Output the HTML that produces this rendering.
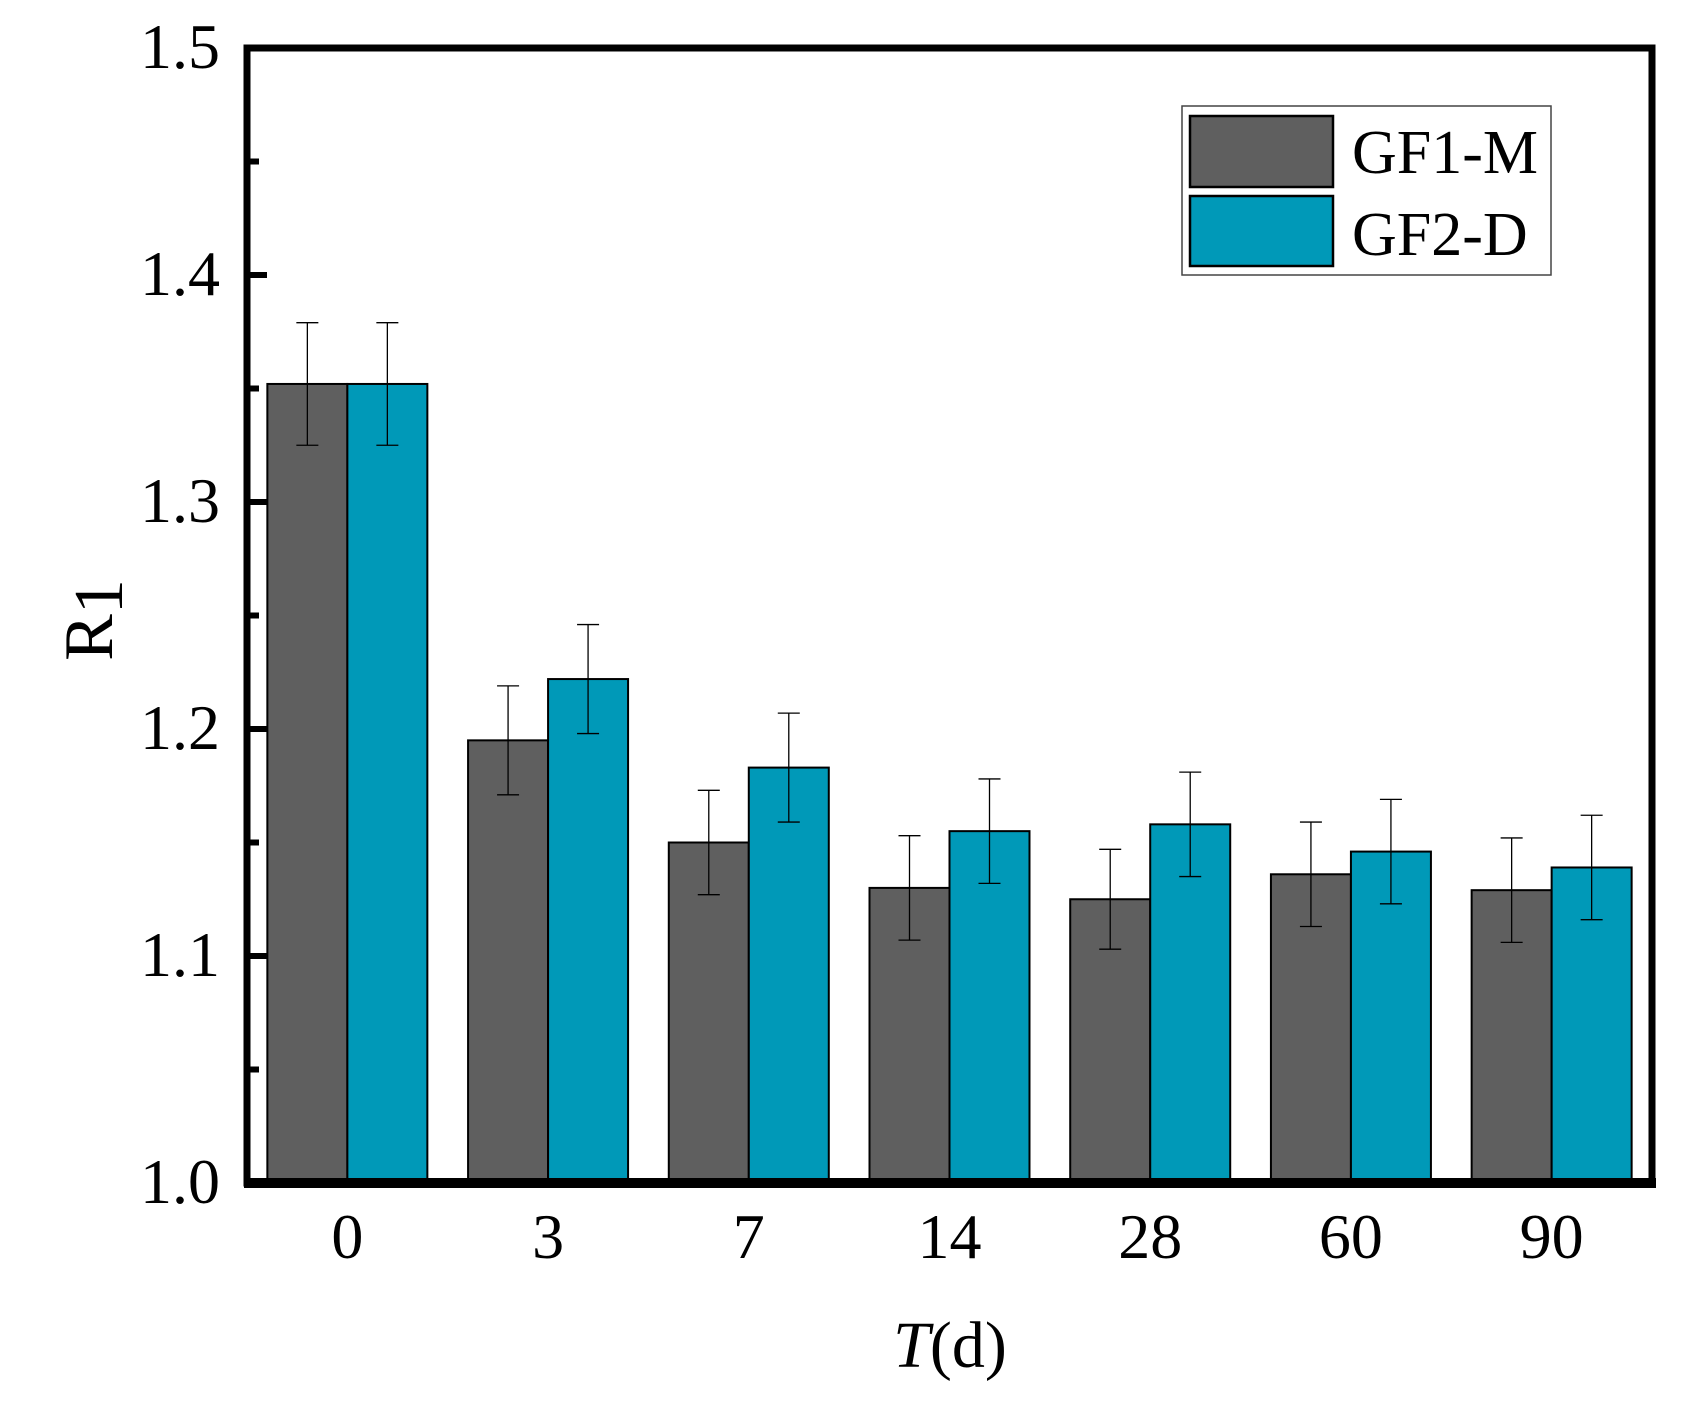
<!DOCTYPE html>
<html><head><meta charset="utf-8"><style>
html,body{margin:0;padding:0;background:#fff;}
svg text{font-family:"Liberation Serif","Times New Roman",Times,serif;fill:#000;}
</style></head><body>
<svg id="chart" width="1708" height="1401" viewBox="0 0 1708 1401" xmlns="http://www.w3.org/2000/svg" font-family="'Liberation Serif', 'Times New Roman', Times, serif">
<g id="bars"></g>
<g id="axes"></g>
<g>
  <rect x="1182" y="106" width="369" height="169" fill="#fff" stroke="#444" stroke-width="1.5"/>
  <rect x="1190" y="116" width="143" height="71" fill="#5f5f5f" stroke="#000" stroke-width="2.5"/>
  <text x="1352" y="173" font-size="62">GF1-M</text>
  <rect x="1190" y="196" width="143" height="70" fill="#0099b8" stroke="#000" stroke-width="2.5"/>
  <text x="1352" y="255" font-size="62">GF2-D</text>
</g>
<text x="950" y="1367" font-size="66" text-anchor="middle"><tspan font-style="italic">T</tspan>(d)</text>
<text transform="translate(112,620) rotate(-90)" font-size="70" text-anchor="middle">R<tspan dy="10">1</tspan></text>
</svg>
<script>
const categories = ["0","3","7","14","28","60","90"];
const gf1 = [1.352,1.195,1.150,1.130,1.125,1.136,1.129];
const gf2 = [1.352,1.222,1.183,1.155,1.158,1.146,1.139];
const gf1Err = [0.027,0.024,0.023,0.023,0.022,0.023,0.023];
const gf2Err = [0.027,0.024,0.024,0.023,0.023,0.023,0.023];
const yTicks = [1.0,1.1,1.2,1.3,1.4,1.5];
const yTickLabels = ["1.0","1.1","1.2","1.3","1.4","1.5"];

const NS="http://www.w3.org/2000/svg";
const L=247,R=1652,T=48,B=1183,ymin=1.0,ymax=1.5;
const y=v=>B-(v-ymin)/(ymax-ymin)*(B-T);
const band=(R-L)/categories.length;
const xc=i=>L+band*(i+0.5);
const bw=80;
function mk(tag,at,parent){const e=document.createElementNS(NS,tag);for(const k in at)e.setAttribute(k,at[k]);parent.appendChild(e);return e;}
const bars=document.getElementById('bars'), axes=document.getElementById('axes');
const series=[{v:gf1,e:gf1Err,c:"#5f5f5f",n:"gf1-m",off:-1},{v:gf2,e:gf2Err,c:"#0099b8",n:"gf2-d",off:0}];
series.forEach(s=>{
  categories.forEach((cat,i)=>{
    const x0=xc(i)+s.off*bw;
    const r=mk('rect',{x:x0,y:y(s.v[i]),width:bw,height:B-y(s.v[i]),fill:s.c,stroke:"#000","stroke-width":2},bars);
    
    
    const cx=x0+bw/2, hi=y(s.v[i]+s.e[i]), lo=y(s.v[i]-s.e[i]);
    const g=mk('g',{stroke:"#000","stroke-width":1.3},bars);
    
    
    mk('line',{x1:cx,x2:cx,y1:hi,y2:lo},g);
    mk('line',{x1:cx-11,x2:cx+11,y1:hi,y2:hi},g);
    mk('line',{x1:cx-11,x2:cx+11,y1:lo,y2:lo},g);
  });
});
const fr=mk('rect',{x:L,y:T,width:R-L,height:B-T,fill:"none",stroke:"#000","stroke-width":7},axes);


const xa=mk('line',{x1:L-3,x2:R+4,y1:B,y2:B,stroke:"#000","stroke-width":10},axes);


yTicks.forEach((t,i)=>{
  const tk=mk('line',{x1:L,x2:L+20,y1:y(t),y2:y(t),stroke:"#000","stroke-width":6},axes);
  
  
  const tx=mk('text',{x:220,y:y(t)+20,"font-size":64,"text-anchor":"end"},axes);
  tx.textContent=yTickLabels[i];
  
  
  if(i<yTicks.length-1){
    const m=mk('line',{x1:L,x2:L+12,y1:y(t+0.05),y2:y(t+0.05),stroke:"#000","stroke-width":6},axes);
    
    
  }
});
categories.forEach((c,i)=>{
  const tx=mk('text',{x:xc(i),y:1258,"font-size":64,"text-anchor":"middle"},axes);
  tx.textContent=c;
  
  
});
</script>
</body></html>
